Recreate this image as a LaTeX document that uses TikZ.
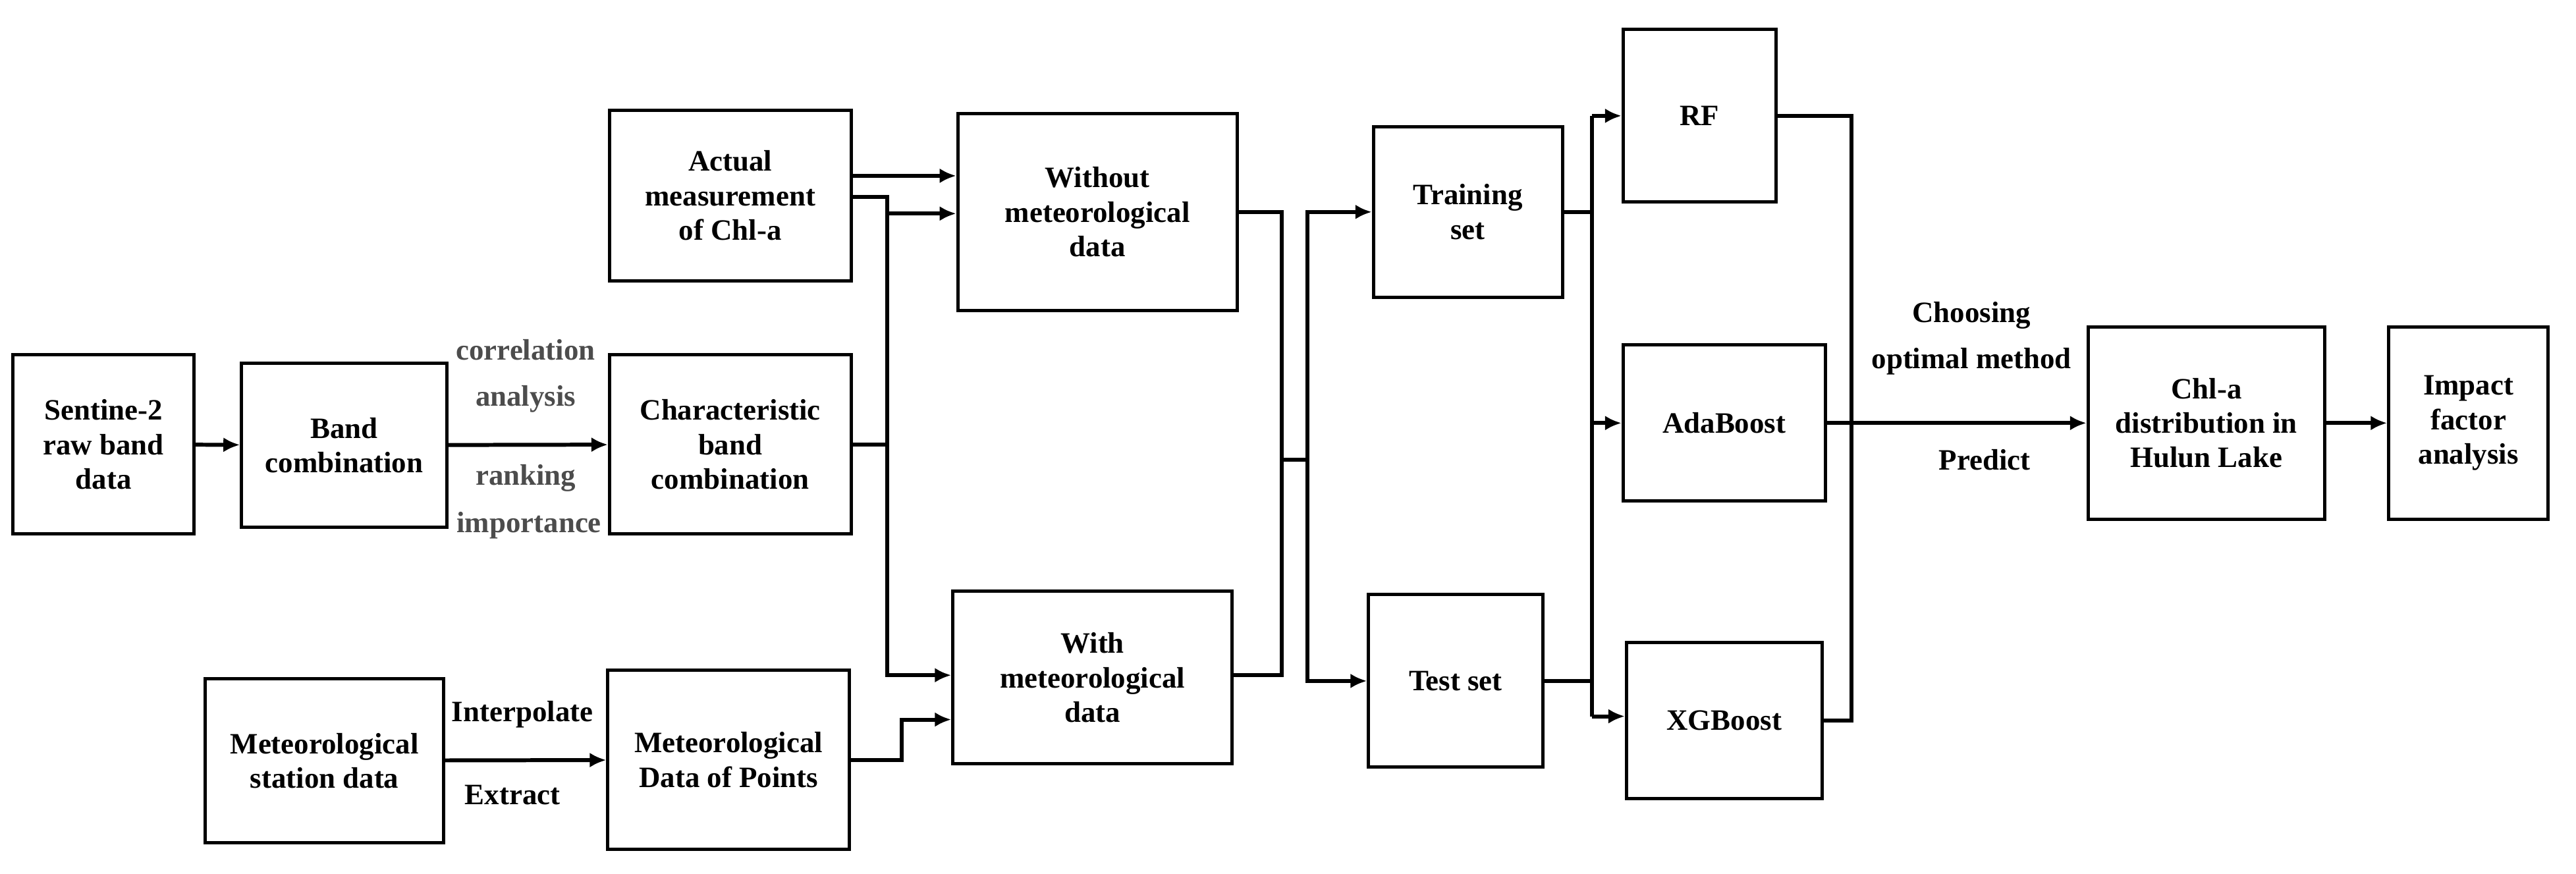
\documentclass[tikz,border=0pt]{standalone}
\usepackage{fontspec}
\setmainfont{Liberation Serif}
\usetikzlibrary{arrows.meta}

\tikzset{
  box/.style={draw, line width=1pt, align=center, inner sep=1pt, font=\fontsize{9}{10.5}\selectfont\bfseries},
  lbl/.style={inner sep=0.5pt, font=\fontsize{9}{10.5}\selectfont\bfseries},
  conn/.style={line width=1.2pt, -{Latex[length=5pt,width=4.5pt]}},
  wire/.style={line width=1.2pt}
}

\begin{document}
\begin{tikzpicture}[x=0.5pt,y=-0.5pt]
  \useasboundingbox (0,0) rectangle (1568,532);
  % boxes
  \node[box, minimum width=55pt, minimum height=54.5pt] (sent) at (63,270.5) {Sentine-2\\raw band\\data};
  \node[box, minimum width=62.5pt, minimum height=50pt] (band) at (209.5,271) {Band\\combination};
  \node[box, minimum width=73.5pt, minimum height=54.5pt] (char) at (444.5,270.5) {Characteristic\\band\\combination};
  \node[box, minimum width=73.5pt, minimum height=52pt] (actual) at (444.5,119) {Actual\\measurement\\of Chl-a};
  \node[box, minimum width=72.5pt, minimum height=50pt] (metst) at (197.5,463) {Meteorological\\station data};
  \node[box, minimum width=73.5pt, minimum height=54.5pt] (metpt) at (443.5,462.5) {Meteorological\\Data of Points};
  \node[box, minimum width=85pt, minimum height=60pt] (without) at (668,129) {Without\\meteorological\\data};
  \node[box, minimum width=85pt, minimum height=52.5pt] (with) at (665,412.5) {With\\meteorological\\data};
  \node[box, minimum width=57.5pt, minimum height=52pt] (train) at (893.5,129) {Training\\set};
  \node[box, minimum width=53pt, minimum height=52.5pt] (test) at (886,414.5) {Test set};
  \node[box, minimum width=46.5pt, minimum height=52.5pt] (rf) at (1034.5,70.5) {RF};
  \node[box, minimum width=61.5pt, minimum height=47.5pt] (ada) at (1049.5,257.5) {AdaBoost};
  \node[box, minimum width=59.5pt, minimum height=47.5pt] (xg) at (1049.5,438.5) {XGBoost};
  \node[box, minimum width=72pt, minimum height=58.5pt] (chl) at (1343,257.5) {Chl-a\\distribution in\\Hulun Lake};
  \node[box, minimum width=48.5pt, minimum height=58.5pt] (impact) at (1502.5,257.5) {Impact\\factor\\analysis};

  % left part
  \draw[conn] (sent) -- (band);
  \draw[conn] (band) -- (char);
  \node[lbl, text=black!70] at (320,213) {correlation};
  \node[lbl, text=black!70] at (320,243) {analysis};
  \node[lbl, text=black!70] at (320,291) {ranking};
  \node[lbl, text=black!70] at (322,320) {importance};
  \draw[conn] (metst) -- (metpt);
  \node[lbl] at (318,435) {Interpolate};
  \node[lbl] at (312,484) {Extract};

  % inputs to the two data sets
  \coordinate (jl) at (540,120);
  \draw[conn] (actual.east |- 0,107) -- (without.west |- 0,107);
  \draw[wire] (actual.east |- 0,120) -- (jl) -- (jl |- char.east);
  \draw[wire] (char.east) -- (jl |- char.east);
  \draw[conn] (jl |- 0,130) -- (without.west |- 0,130);
  \draw[conn] (jl |- char.east) -- (jl |- 0,411) -- (with.west |- 0,411);
  \draw[conn] (metpt.east) -- (549,462.5) -- (549,438) -- (with.west |- 0,438);

  % data sets to training / test
  \coordinate (jm) at (780,280);
  \coordinate (jr) at (796,280);
  \draw[wire] (without.east) -- (jm |- without.east) -- (jm) -- (jm |- 0,411) -- (with.east |- 0,411);
  \draw[wire] (jm) -- (jr);
  \draw[conn] (jr) -- (jr |- train.west) -- (train.west);
  \draw[conn] (jr) -- (jr |- test.west) -- (test.west);

  % models
  \coordinate (jt) at (969,129);
  \draw[wire] (train.east) -- (jt);
  \draw[wire] (test.east) -- (jt |- test.east);
  \draw[conn] (jt |- rf.west) -- (rf.west);
  \draw[conn] (jt |- ada.west) -- (ada.west);
  \draw[conn] (jt |- 0,436) -- (xg.west |- 0,436);
  \draw[wire] (jt |- rf.west) -- (jt |- 0,436);

  % choosing
  \coordinate (jo) at (1127,257.5);
  \draw[wire] (rf.east) -- (jo |- rf.east) -- (jo |- xg.east) -- (xg.east);
  \draw[conn] (ada.east) -- (chl.west);
  \node[lbl] at (1200,192) {Choosing};
  \node[lbl] at (1200,220) {optimal method};
  \node[lbl] at (1208,280) {Predict};
  \draw[conn] (chl) -- (impact);
\end{tikzpicture}
\end{document}
